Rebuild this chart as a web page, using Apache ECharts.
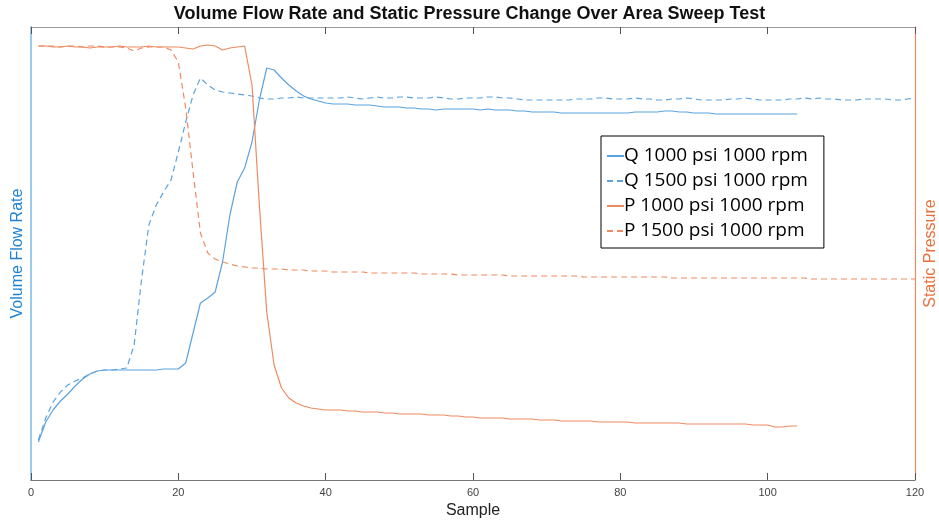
<!DOCTYPE html>
<html>
<head>
<meta charset="utf-8">
<script src="https://cdn.jsdelivr.net/npm/echarts@6/dist/echarts.min.js"></script>
<style>html,body{margin:0;padding:0;background:#fff;}#c{width:939px;height:521px;}</style>
</head>
<body>
<div id="c"></div>
<script>
// Values on an arbitrary (unlabelled) scale, 0 = bottom of plot, 453 = top
const xTicks = [0, 20, 40, 60, 80, 100, 120];
const seriesNames = ['Q 1000 psi 1000 rpm', 'Q 1500 psi 1000 rpm', 'P 1000 psi 1000 rpm', 'P 1500 psi 1000 rpm'];
const q1000 = [38,58,70,79,86,94,101,106,109,110, 110,110,110,110,110,110,110,111,111,111,
  117,147,177,182,188,218,265,298,312,338, 380,412,410,402,395,389,384,381,379,377,
  376,376,376,375,375,375,374,373,373,373, 372,372,371,371,370,371,371,371,371,371,
  370,371,370,370,370,369,369,368,368,368, 368,367,367,367,367,367,367,367,367,367,
  367,368,368,368,368,369,369,368,368,367, 367,367,366,366,366,366,366,366,366,366,
  366,366,366,366];
const q1500 = [40,62,78,88,95,99,102,106,109,110, 110,111,112,135,200,255,275,288,300,328,
  358,385,402,395,390,388,387,386,385,384, 382,381,381,382,382,383,382,382,382,382,
  382,382,383,382,381,382,383,382,382,383, 383,382,382,382,383,382,381,381,382,382,
  382,383,383,382,382,381,380,380,380,380, 380,380,380,381,381,381,382,382,381,381,
  381,382,381,381,380,380,381,381,382,381, 380,380,380,380,381,381,382,381,380,380,
  380,380,381,381,382,381,382,381,381,380, 380,380,381,381,381,381,380,380,381,382];
const p1000 = [434,434,433,433,434,433,433,432,433,433, 433,434,433,433,433,434,433,433,433,433,
  432,431,434,435,434,430,432,433,434,395, 275,168,115,92,82,77,74,72,71,70,
  70,70,69,69,68,68,68,67,67,66, 66,66,66,65,65,65,64,64,63,63,
  62,62,62,62,61,61,61,61,60,60, 60,59,59,59,59,59,58,58,58,58,
  58,57,57,57,57,57,57,57,56,56, 56,56,56,56,56,56,56,55,55,55,
  53,53,54,54];
const p1500 = [434,434,434,433,434,434,433,434,434,433, 433,433,432,429,432,433,433,433,430,418,
  372,308,247,227,221,218,216,214,213,212, 212,211,211,211,210,210,210,209,209,209,
  208,208,208,208,208,207,207,207,207,207, 207,207,206,206,206,206,206,205,205,205,
  205,205,205,205,204,204,204,204,204,204, 204,204,204,204,203,203,203,203,203,203,
  203,203,203,203,203,203,202,202,202,202, 202,202,202,202,202,202,202,202,202,202,
  202,202,202,202,202,201,201,201,201,201, 201,201,201,201,201,201,201,201,201,201];

const pairs = arr => arr.map((v, i) => [i + 1, v]);
const BLUE = '#5ba3df', ORANGE = '#ee8a60';

const chart = echarts.init(document.getElementById('c'), null, {renderer: 'canvas'});
chart.setOption({
  animation: false,
  backgroundColor: '#fff',
  title: {
    text: 'Volume Flow Rate and Static Pressure Change Over Area Sweep Test',
    left: 'center', top: 0,
    textStyle: {fontFamily: 'Liberation Sans', fontSize: 18, fontWeight: 'bold', color: '#111'}
  },
  legend: {
    orient: 'vertical', left: 601, top: 136,
    data: seriesNames,
    backgroundColor: '#fff', borderColor: '#000', borderWidth: 1,
    padding: [10, 16, 7, 5], itemGap: 5, itemWidth: 17, itemHeight: 10,
    itemStyle: {opacity: 0},
    textStyle: {fontFamily: 'Open Sans', fontSize: 19, lineHeight: 20, color: '#000', padding: [0, 0, 0, -5]}
  },
  grid: {left: 31, right: 24, top: 27, bottom: 41, containLabel: false, outerBoundsMode: 'none'},
  xAxis: [{
    type: 'value', min: 0, max: 120, interval: 20, position: 'bottom',
    name: 'Sample', nameLocation: 'middle', nameGap: 22,
    nameTextStyle: {fontFamily: 'Liberation Sans', fontSize: 16, color: '#222'},
    axisLine: {onZero: false, lineStyle: {color: '#777', width: 1}},
    axisTick: {inside: true, length: 7, lineStyle: {color: '#555'}},
    axisLabel: {fontFamily: 'Liberation Sans', fontSize: 11, color: '#444', margin: 7,
      formatter: v => xTicks.includes(v) ? String(v) : ''},
    splitLine: {show: false}
  }, {
    type: 'value', min: 0, max: 120, interval: 20, position: 'top',
    axisLine: {onZero: false, lineStyle: {color: '#999', width: 1}},
    axisTick: {inside: true, length: 7, lineStyle: {color: '#555'}},
    axisLabel: {show: false}, splitLine: {show: false}
  }],
  yAxis: [{
    type: 'value', min: 0, max: 453, position: 'left',
    name: 'Volume Flow Rate', nameLocation: 'middle', nameGap: 5,
    nameTextStyle: {fontFamily: 'Liberation Sans', fontSize: 16, color: '#1f82d4'},
    axisLine: {show: true, onZero: false, lineStyle: {color: '#9ccaec', width: 2}},
    axisTick: {show: false}, axisLabel: {show: false}, splitLine: {show: false}
  }, {
    type: 'value', min: 0, max: 453, position: 'right',
    name: 'Static Pressure', nameLocation: 'middle', nameGap: 8,
    nameTextStyle: {fontFamily: 'Liberation Sans', fontSize: 16, color: '#e8703c'},
    axisLine: {show: true, onZero: false, lineStyle: {color: '#ee8a60', width: 1.2}},
    axisTick: {show: false}, axisLabel: {show: false}, splitLine: {show: false}
  }],
  series: [
    {name: seriesNames[0], type: 'line', xAxisIndex: 0, yAxisIndex: 0, data: pairs(q1000),
      symbol: 'none', lineStyle: {color: BLUE, width: 1.2}, itemStyle: {color: BLUE}},
    {name: seriesNames[1], type: 'line', xAxisIndex: 0, yAxisIndex: 0, data: pairs(q1500),
      symbol: 'none', lineStyle: {color: BLUE, width: 1.2, type: [6, 4]}, itemStyle: {color: BLUE}},
    {name: seriesNames[2], type: 'line', xAxisIndex: 0, yAxisIndex: 1, data: pairs(p1000),
      symbol: 'none', lineStyle: {color: ORANGE, width: 1.2}, itemStyle: {color: ORANGE}},
    {name: seriesNames[3], type: 'line', xAxisIndex: 0, yAxisIndex: 1, data: pairs(p1500),
      symbol: 'none', lineStyle: {color: ORANGE, width: 1.2, type: [6, 4]}, itemStyle: {color: ORANGE}}
  ]
});
</script>
</body>
</html>
